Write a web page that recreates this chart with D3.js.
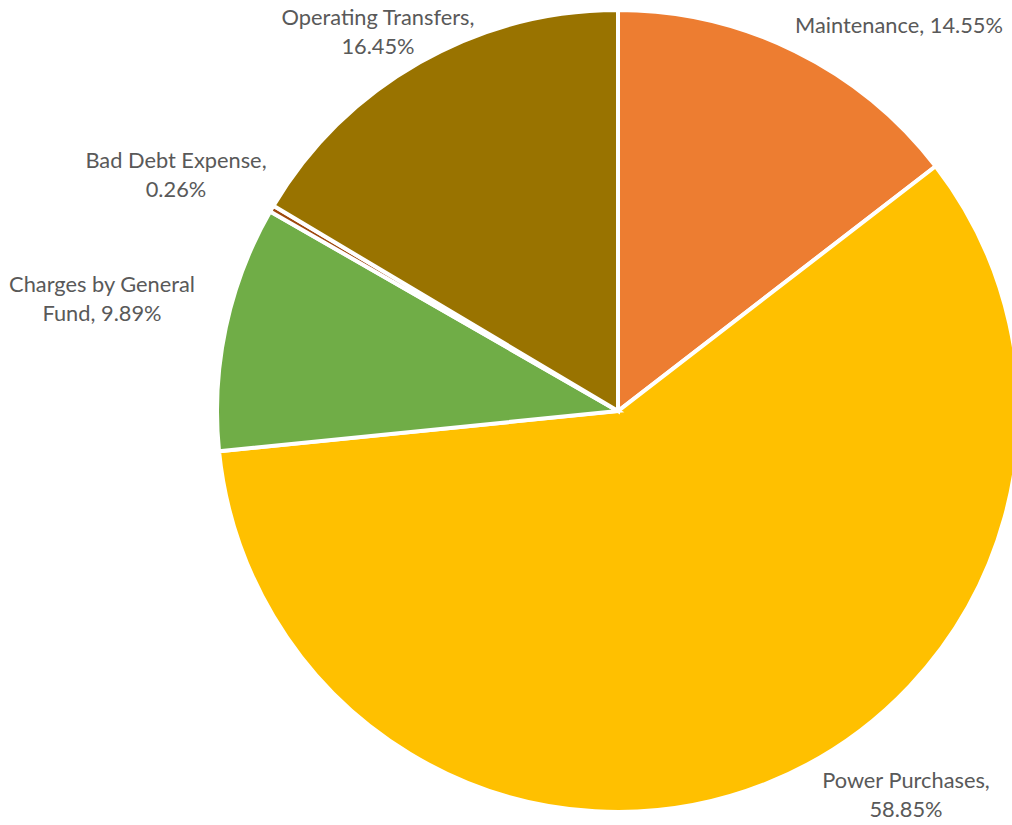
<!DOCTYPE html>
<html>
<head>
<meta charset="utf-8">
<script src="https://cdnjs.cloudflare.com/ajax/libs/d3/7.8.5/d3.min.js"></script>
<style>
  html, body { margin: 0; padding: 0; background: #ffffff; }
  svg { display: block; }
</style>
</head>
<body>
<svg id="chart" width="1012" height="825"></svg>
<script>
// Expense categories, clockwise from twelve o'clock
const categories = [
  "Maintenance",
  "Power Purchases",
  "Charges by General Fund",
  "Bad Debt Expense",
  "Operating Transfers"
];
// Share of total expenses, percent
const shares = [14.55, 58.85, 9.89, 0.26, 16.45];
// Label text as wrapped lines
const labelLines = [
  ["Maintenance, 14.55%"],
  ["Power Purchases,", "58.85%"],
  ["Charges by General", "Fund, 9.89%"],
  ["Bad Debt Expense,", "0.26%"],
  ["Operating Transfers,", "16.45%"]
];
const sliceColors = ["#ED7D31", "#FFC000", "#70AD47", "#9E480E", "#997300"];

// Layout
const cx = 618, cy = 411, radius = 401;
const borderWidth = 4;
// Label anchors (centre of first baseline), placed outside the pie
const labelAnchors = [
  [899, 33],
  [906, 788],
  [102, 292],
  [176, 168],
  [378, 25]
];
const lineGap = 29;

const svg = d3.select("#chart");
const g = svg.append("g").attr("transform", `translate(${cx},${cy})`);

const data = categories.map((c, i) => ({ name: c, value: shares[i], i }));
const pie = d3.pie().value(d => d.value).sort(null);
const arc = d3.arc().innerRadius(0).outerRadius(radius);
const color = d3.scaleOrdinal().domain(categories).range(sliceColors);

g.selectAll("path.slice")
  .data(pie(data))
  .join("path")
  .attr("class", "slice")
  .attr("d", arc)
  .attr("fill", d => color(d.data.name))
  .attr("stroke", "#ffffff")
  .attr("stroke-width", borderWidth)
  .attr("stroke-linejoin", "miter");

// Labels
const fontFamily = "Lato, 'Open Sans', 'Noto Sans', sans-serif";
// Size the font so the single-line label spans its target width
const probe = svg.append("text")
  .attr("font-family", fontFamily)
  .attr("font-size", 100)
  .text(labelLines[0][0]);
const probeW = probe.node().getComputedTextLength();
probe.remove();
const fontSize = Math.min(26, Math.max(18, 100 * 208 / probeW));

const labels = svg.append("g").attr("class", "labels")
  .attr("font-family", fontFamily)
  .attr("font-size", fontSize)
  .attr("fill", "#595959")
  .attr("text-anchor", "middle");

data.forEach((d, i) => {
  const [lx, ly] = labelAnchors[i];
  const t = labels.append("text").attr("x", lx).attr("y", ly);
  labelLines[i].forEach((line, k) => {
    t.append("tspan").attr("x", lx).attr("y", ly + k * lineGap).text(line);
  });
});
</script>
</body>
</html>
